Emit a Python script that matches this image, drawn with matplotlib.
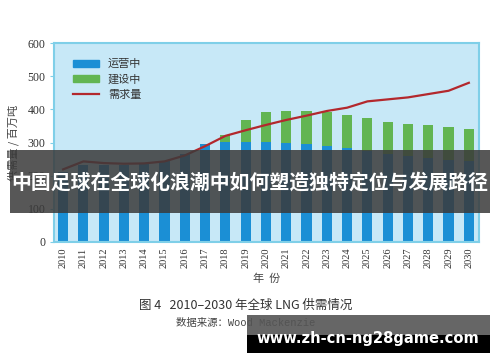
import matplotlib
matplotlib.use("Agg")
import matplotlib.pyplot as plt
from matplotlib.patches import Rectangle, Patch
from matplotlib.lines import Line2D
import numpy as np

plt.rcParams['font.family'] = ['Noto Sans CJK SC', 'DejaVu Sans']

years = list(range(2010, 2031))
operating = [210, 231, 231, 231, 234, 243, 265, 294, 301, 301, 301, 299, 295,
             289, 284, 274, 264, 258, 254, 248, 243]
total = [210, 231, 231, 231, 234, 243, 265, 294, 324, 367, 392, 395, 394,
         392, 382, 375, 363, 357, 352, 346, 341]
demand = [219, 243, 238, 236, 237, 243, 261, 289, 320, 337, 353, 368, 381,
          395, 405, 424, 430, 436, 446, 456, 480]
construction = [t - o for t, o in zip(total, operating)]

W, H = 500, 362
fig = plt.figure(figsize=(5.0, 3.62), dpi=100)
ax = fig.add_axes([54 / W, 1 - 242 / H, (479 - 54) / W, (242 - 43) / H])
ax.set_facecolor('#c7e8f7')

x = np.arange(len(years))
blue = '#1b8fd5'
green = '#62b552'
red = '#b3282d'
ax.bar(x, operating, width=0.5, color=blue, zorder=2)
ax.bar(x, construction, width=0.5, bottom=operating, color=green, zorder=2)
ax.plot(x, demand, color=red, lw=1.6, zorder=3)

ax.set_xlim(-0.45, 20.5)
ax.set_ylim(0, 600)
ax.set_yticks(range(0, 601, 100))
ax.set_xticks(x)
ax.set_xticklabels([str(y) for y in years], rotation=90, family='Liberation Serif',
                   fontsize=7.5, color='#333333')
for t in ax.get_yticklabels():
    t.set_family('Liberation Serif')
    t.set_fontsize(8.5)
    t.set_color('#333333')
ax.tick_params(axis='x', length=0, pad=4)
ax.tick_params(axis='y', length=3, color='#7fcfe8', pad=3)
for s in ax.spines.values():
    s.set_color('#7fcfe8')
    s.set_linewidth(1.5)

ax.set_ylabel('供需量 / 百万吨', fontsize=8, color='#444444', labelpad=6)
ax.set_xlabel('年  份', fontsize=8, color='#444444', labelpad=4)

handles = [Patch(color=blue), Patch(color=green), Line2D([0], [0], color=red, lw=1.6)]
ax.legend(handles, ['运营中', '建设中', '需求量'], loc='upper left', frameon=False,
          fontsize=8, handlelength=2.4, handleheight=0.6, labelspacing=0.45,
          bbox_to_anchor=(0.02, 0.97), labelcolor='#333333')

fig.text(246 / W, 1 - 305 / H, '图 4   2010–2030 年全球 LNG 供需情况', ha='center', va='center',
         fontsize=9, color='#333333')
fig.text(246 / W, 1 - 323 / H, '数据来源：Wood Mackenzie', ha='center', va='center',
         fontsize=7.5, color='#444444', family=['Liberation Mono', 'Noto Sans CJK SC'])

# overlay banner
fig.patches.append(Rectangle((10 / W, 1 - 213 / H), 480 / W, 63 / H, transform=fig.transFigure,
                             facecolor='#3a3a3a', alpha=0.85, zorder=5))
fig.text(250 / W, 1 - 182 / H, '中国足球在全球化浪潮中如何塑造独特定位与发展路径', ha='center',
         va='center', fontsize=14.3, fontweight='bold', color='white', zorder=6)

# footer badge
fig.patches.append(Rectangle((247 / W, 1 - 335 / H), 243 / W, 20 / H, transform=fig.transFigure,
                             facecolor='#555555', alpha=0.9, zorder=5))
fig.patches.append(Rectangle((247 / W, 1 - 353 / H), 243 / W, 18 / H, transform=fig.transFigure,
                             facecolor='black', zorder=5))
fig.text(368 / W, 1 - 338 / H, 'www.zh-cn-ng28game.com', ha='center', va='center',
         fontsize=10.6, fontweight='bold', color='white', family='DejaVu Sans', zorder=6)

fig.savefig('out.png', dpi=100, facecolor='white')
